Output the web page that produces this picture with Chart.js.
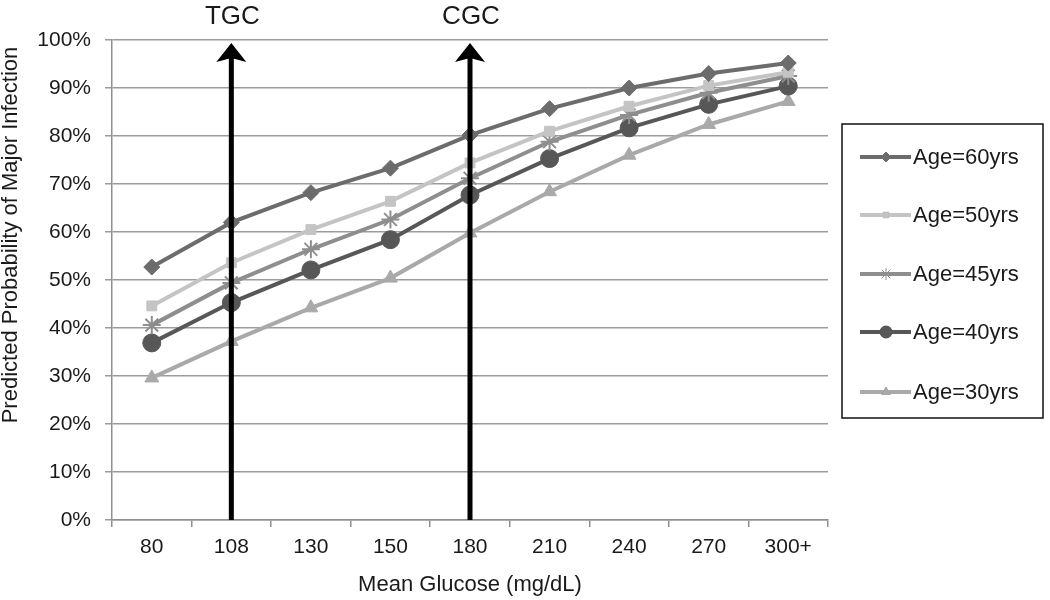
<!DOCTYPE html>
<html>
<head>
<meta charset="utf-8">
<script src="https://cdn.jsdelivr.net/npm/chart.js@4.4.1/dist/chart.umd.min.js"></script>
<style>
  html, body { margin: 0; padding: 0; background: #fff; }
  #wrap { width: 1050px; height: 600px; }
</style>
</head>
<body>
<div id="wrap"><canvas id="glucoseChart" width="1050" height="600"></canvas></div>
<script>
// categories (mean glucose, mg/dL)
const glucose = ['80', '108', '130', '150', '180', '210', '240', '270', '300+'];

// predicted probability of major infection, %
const age60 = [52.7, 62.0, 68.2, 73.3, 80.2, 85.7, 90.0, 93.0, 95.2];
const age50 = [44.6, 53.6, 60.5, 66.4, 74.4, 81.0, 86.2, 90.5, 93.3];
const age45 = [40.6, 49.4, 56.4, 62.6, 71.2, 78.8, 84.4, 89.0, 92.5];
const age40 = [36.9, 45.3, 52.1, 58.4, 67.7, 75.3, 81.7, 86.6, 90.4];
const age30 = [29.6, 37.2, 44.2, 50.4, 59.8, 68.4, 76.0, 82.4, 87.2];

const seriesNames = ['Age=60yrs', 'Age=50yrs', 'Age=45yrs', 'Age=40yrs', 'Age=30yrs'];

// vertical reference arrows
const arrowAt = ['108', '180'];
const arrowText = ['TGC', 'CGC'];

const FONT = "'Liberation Sans', Arial, Helvetica, sans-serif";
const TEXT = '#1a1a1a';

function makeSet(label, data, color, style, radius) {
    return {
        label: label,
        data: data,
        borderColor: color,
        backgroundColor: color,
        borderWidth: 4,
        pointStyle: style,
        pointRadius: radius,
        pointHoverRadius: radius,
        pointBorderWidth: style === 'star' ? 2 : 1,
        tension: 0,
        fill: false
    };
}

// arrows + y title + boxed legend
const extras = {
    id: 'extras',
    afterDatasetsDraw(chart) {
        const ctx = chart.ctx;
        const x = chart.scales.x, y = chart.scales.y;
        const base = y.getPixelForValue(0);
        const tip = y.getPixelForValue(100) + 3;
        ctx.save();
        arrowAt.forEach((cat, i) => {
            const px = x.getPixelForValue(glucose.indexOf(cat));
            ctx.fillStyle = '#000';
            ctx.fillRect(px - 2.5, tip + 12, 5, base - tip - 12);
            ctx.beginPath();
            ctx.moveTo(px, tip);
            ctx.lineTo(px + 15, tip + 19);
            ctx.lineTo(px, tip + 15);
            ctx.lineTo(px - 15, tip + 19);
            ctx.closePath();
            ctx.fill();
            ctx.font = '26px ' + FONT;
            ctx.fillStyle = TEXT;
            ctx.textAlign = 'center';
            ctx.textBaseline = 'middle';
            ctx.fillText(arrowText[i], px + 1, 17);
        });
        ctx.restore();
    },
    afterDraw(chart) {
        const ctx = chart.ctx;
        ctx.save();
        // y axis title
        ctx.translate(11, 235);
        ctx.rotate(-Math.PI / 2);
        ctx.font = '22px ' + FONT;
        ctx.fillStyle = TEXT;
        ctx.textAlign = 'center';
        ctx.textBaseline = 'middle';
        ctx.fillText('Predicted Probability of Major Infection', 0, 0);
        ctx.restore();

        // legend box
        ctx.save();
        ctx.strokeStyle = '#111';
        ctx.lineWidth = 1.5;
        ctx.strokeRect(842, 124, 201, 294);
        const rows = [157, 215, 274, 332, 392];
        chart.data.datasets.forEach((ds, i) => {
            const ly = rows[i];
            ctx.strokeStyle = ds.borderColor;
            ctx.lineWidth = 4;
            ctx.beginPath();
            ctx.moveTo(860, ly);
            ctx.lineTo(911, ly);
            ctx.stroke();
            ctx.lineWidth = 1;
            Chart.helpers.drawPoint(ctx, {
                pointStyle: ds.pointStyle,
                radius: ds.pointRadius - 3,
                rotation: 0,
                borderWidth: ds.pointBorderWidth
            }, 886, ly);
            ctx.fillStyle = ds.borderColor;
            ctx.fill();
            ctx.font = '22px ' + FONT;
            ctx.fillStyle = TEXT;
            ctx.textAlign = 'left';
            ctx.textBaseline = 'middle';
            ctx.fillText(ds.label, 913, ly + 1);
        });
        ctx.restore();
    }
};

const ctx = document.getElementById('glucoseChart').getContext('2d');
const glucoseChart = new Chart(ctx, {
    type: 'line',
    data: {
        labels: glucose,
        datasets: [
            makeSet(seriesNames[0], age60, '#6c6c6c', 'rectRot', 8),
            makeSet(seriesNames[1], age50, '#c4c4c4', 'rect', 7),
            makeSet(seriesNames[2], age45, '#8e8e8e', 'star', 9),
            makeSet(seriesNames[3], age40, '#575757', 'circle', 9),
            makeSet(seriesNames[4], age30, '#a9a9a9', 'triangle', 8)
        ]
    },
    options: {
        responsive: false,
        animation: false,
        layout: {
            padding: { top: 40, right: 222, bottom: 0, left: 0 }
        },
        plugins: {
            legend: { display: false },
            tooltip: { enabled: false }
        },
        scales: {
            x: {
                offset: true,
                afterFit: (scale) => { scale.height = 80; },
                grid: {
                    offset: true,
                    drawOnChartArea: false,
                    tickLength: 7,
                    color: '#8f8f8f',
                    lineWidth: 1.5
                },
                border: { color: '#8f8f8f', width: 1.5 },
                ticks: {
                    color: TEXT,
                    padding: 8,
                    maxRotation: 0,
                    font: { family: FONT, size: 21 }
                },
                title: {
                    display: true,
                    text: 'Mean Glucose (mg/dL)',
                    color: TEXT,
                    padding: { top: 0, bottom: 2 },
                    font: { family: FONT, size: 22 }
                }
            },
            y: {
                min: 0,
                max: 100,
                afterFit: (scale) => { scale.width = 112; },
                grid: {
                    color: '#9c9c9c',
                    lineWidth: 1.5,
                    tickLength: 7
                },
                border: { color: '#8f8f8f', width: 1.5 },
                ticks: {
                    stepSize: 10,
                    color: TEXT,
                    padding: 14,
                    font: { family: FONT, size: 21 },
                    callback: (v) => v + '%'
                }
            }
        }
    },
    plugins: [extras]
});
</script>
</body>
</html>
